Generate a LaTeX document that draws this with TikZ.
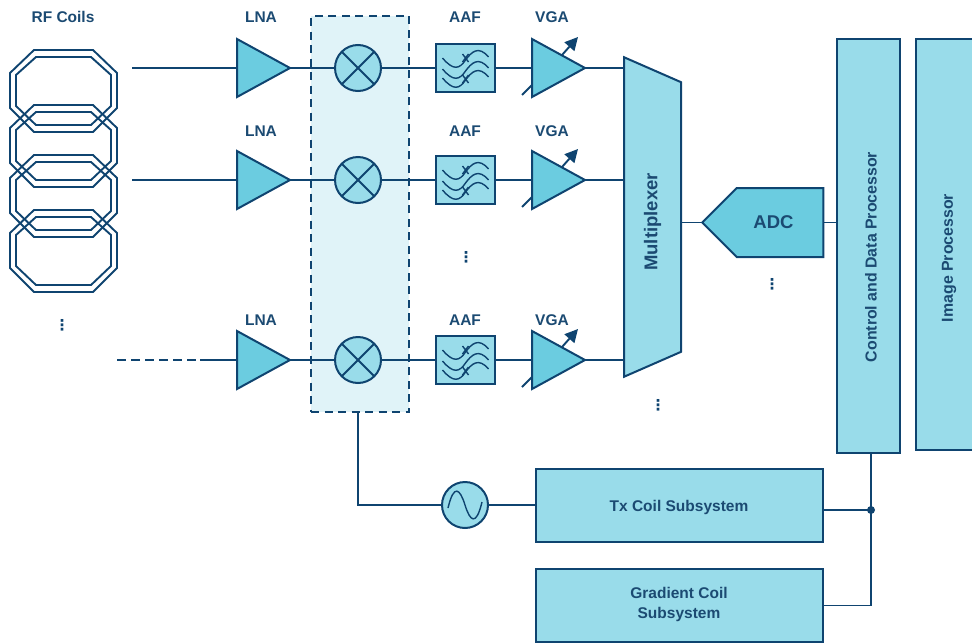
\documentclass[tikz,border=0pt]{standalone}
\usepackage{fontspec}
\setmainfont{Liberation Sans}
\newfontfamily\symfont{DejaVu Sans}
\usetikzlibrary{arrows.meta,shapes.geometric,shapes.symbols}
\definecolor{linecol}{HTML}{0F4470}
\definecolor{textcol}{HTML}{1B4A72}
\definecolor{boxcol}{HTML}{99DCEA}
\definecolor{ampcol}{HTML}{6BCCE0}
\definecolor{mixcol}{HTML}{E0F3F8}
\tikzset{
    wire/.style={line width=1.9pt,linecol},
    lab/.style={text=textcol,font=\fontsize{15.5}{19}\selectfont\bfseries,align=center,inner sep=0pt},
    proclab/.style={text=textcol,font=\fontsize{15.9}{19}\selectfont\bfseries,inner sep=0pt,rotate=90},
    biglab/.style={text=textcol,font=\fontsize{18.5}{22}\selectfont\bfseries,inner sep=0pt},
    block/.style={draw=linecol,line width=2pt,fill=boxcol,inner sep=0pt},
    amp/.style={isosceles triangle,isosceles triangle stretches,anchor=apex,draw=linecol,line width=2pt,fill=ampcol,inner sep=0pt,outer sep=0pt,minimum width=58pt,minimum height=53pt},
    mixer/.style={circle,draw=linecol,line width=2pt,fill=boxcol,inner sep=0pt,minimum size=46pt,
        path picture={\draw[wire] (path picture bounding box.north west) -- (path picture bounding box.south east)
            (path picture bounding box.north east) -- (path picture bounding box.south west);}},
    aaf/.style={block,minimum width=59pt,minimum height=48pt},
    dots/.style={text=linecol,inner sep=0pt,font=\fontsize{15}{15}\selectfont\symfont\bfseries},
    coil/.pic={
        \draw[wire] (24,0) -- (83,0) -- (107,23) -- (107,58) -- (83,82) -- (24,82) -- (0,58) -- (0,23) -- cycle;
        \draw[wire] (26,7) -- (81,7) -- (101,25) -- (101,56) -- (81,75) -- (26,75) -- (6,56) -- (6,25) -- cycle;
    },
    waves/.pic={
        \draw[line width=1.4pt,linecol] (-23,-10) .. controls (-12,3) and (-6,1) .. (0,-8) .. controls (6,-16) and (13,-23) .. (23,-11);
        \draw[line width=1.4pt,linecol] (-23,1) .. controls (-12,14) and (-6,12) .. (0,3) .. controls (6,-5) and (13,-12) .. (23,0);
        \draw[line width=1.4pt,linecol] (-23,10) .. controls (-12,23) and (-6,21) .. (0,12) .. controls (6,4) and (13,-3) .. (23,9);
        \draw[line width=1.4pt,linecol] (-3,-14) -- (3,-6) (3,-14) -- (-3,-6);
        \draw[line width=1.4pt,linecol] (-3,7) -- (3,15) (3,7) -- (-3,15);
    },
    gain/.pic={
        \draw[wire,-{Triangle[length=13pt,width=13pt]}] (-24,-13) -- (-8,-31);
        \draw[wire] (-64,27) -- (-54,17);
    }
}
\begin{document}
\begin{tikzpicture}[x=1pt,y=-1pt]
        \useasboundingbox (0,0) rectangle (972,643);
        
        %mixer box
        \node[draw=linecol,line width=2pt,dash pattern=on 8pt off 5.5pt,fill=mixcol,minimum width=98pt,minimum height=396pt,inner sep=0pt] (mixbox) at (360,214) {};
        
        %coils
        \pic at (10,50) {coil};
        \pic at (10,105) {coil};
        \pic at (10,155) {coil};
        \pic at (10,210) {coil};
        \node[lab] (rflab) at (63,17) {RF Coils};
        \node[dots] (coildots) at (62,325) {⋮};
        \coordinate (in1) at (132,68);
        \coordinate (in2) at (132,180);
        \coordinate (in3) at (117,360);
        \coordinate (in3b) at (200,360);
        
        %LNA
        \node[amp] (lna1) at (290,68) {};
        \node[amp] (lna2) at (290,180) {};
        \node[amp] (lna3) at (290,360) {};
        \node[lab] (lnalab1) at (261,17) {LNA};
        \node[lab] (lnalab2) at (261,131) {LNA};
        \node[lab] (lnalab3) at (261,320) {LNA};
        
        %mixers
        \node[mixer] (mix1) at (358,68) {};
        \node[mixer] (mix2) at (358,180) {};
        \node[mixer] (mix3) at (358,360) {};
        
        %AAF
        \node[aaf] (aaf1) at (465.5,68) {};
        \node[aaf] (aaf2) at (465.5,180) {};
        \node[aaf] (aaf3) at (465.5,360) {};
        \pic at (aaf1) {waves};
        \pic at (aaf2) {waves};
        \pic at (aaf3) {waves};
        \node[lab] (aaflab1) at (465,17) {AAF};
        \node[lab] (aaflab2) at (465,131) {AAF};
        \node[lab] (aaflab3) at (465,320) {AAF};
        \node[dots] (aafdots) at (466,257) {⋮};
        
        %VGA
        \pic at (586,68) {gain};
        \pic at (586,180) {gain};
        \pic at (586,360) {gain};
        \node[amp] (vga1) at (585,68) {};
        \node[amp] (vga2) at (585,180) {};
        \node[amp] (vga3) at (585,360) {};
        \node[lab] (vgalab1) at (552,17) {VGA};
        \node[lab] (vgalab2) at (552,131) {VGA};
        \node[lab] (vgalab3) at (552,320) {VGA};
        
        %mux and ADC
        \node[trapezium,trapezium stretches,shape border rotate=180,rotate=90,trapezium angle=60,block,biglab,minimum width=320pt,minimum height=57pt] (mux) at (652.5,217) {Multiplexer\hspace*{10pt}};
        \node[dots] (muxdots) at (658,405) {⋮};
        \node[signal,signal to=west,signal from=nowhere,signal pointer angle=90,block,biglab,fill=ampcol,minimum width=121pt,minimum height=69pt] (adc) at (780,222.5) {ADC\hspace*{13pt}};
        \node[dots] (adcdots) at (772,284) {⋮};
        
        %processors
        \node[block,minimum width=63pt,minimum height=414pt] (cdp) at (868.5,246) {};
        \node[proclab] (cdplab) at (871,257) {Control and Data Processor};
        \node[block,minimum width=60pt,minimum height=411pt] (imgp) at (946,244.5) {};
        \node[proclab] (imglab) at (949,258) {Image Processor};
        
        %Tx and gradient
        \node[mixer,fill=boxcol,path picture={\draw[line width=1.4pt,linecol] (-17,3) .. controls (-11,-22) and (-5,-16) .. (0,0) .. controls (5,16) and (11,22) .. (17,-3);}] (osc) at (465,505) {};
        \node[block,minimum width=287pt,minimum height=73pt] (tx) at (679.5,505.5) {};
        \node[lab] (txlab) at (679,507.5) {Tx Coil Subsystem};
        \node[block,minimum width=287pt,minimum height=73pt] (grad) at (679.5,605.5) {};
        \node[lab] (gradlab) at (679,604.5) {Gradient Coil\\[1pt]Subsystem};
        \coordinate (jct) at (871,510);
        \fill[linecol] (jct) circle (4pt);
        
        %wires
        \draw[wire] (in1) -- (lna1.west |- in1);
        \draw[wire] (in2) -- (lna2.west |- in2);
        \draw[wire,dash pattern=on 8.5pt off 5.5pt] (in3) -- (in3b);
        \draw[wire] (in3b) -- (lna3.west |- in3b);
        \draw[wire] (lna1.apex) -- (mix1);
        \draw[wire] (lna2.apex) -- (mix2);
        \draw[wire] (lna3.apex) -- (mix3);
        \draw[wire] (mix1) -- (aaf1);
        \draw[wire] (mix2) -- (aaf2);
        \draw[wire] (mix3) -- (aaf3);
        \draw[wire] (aaf1) -- (vga1.west |- aaf1);
        \draw[wire] (aaf2) -- (vga2.west |- aaf2);
        \draw[wire] (aaf3) -- (vga3.west |- aaf3);
        \draw[wire] (vga1.apex) -- (vga1.apex -| mux.north);
        \draw[wire] (vga2.apex) -- (vga2.apex -| mux.north);
        \draw[wire] (vga3.apex) -- (vga3.apex -| mux.north);
        \draw[wire] (mux.south |- adc.west) -- (adc.west);
        \draw[wire] (adc.east) -- (adc.east -| cdp.west);
        \draw[wire] (mix3 |- mixbox.south) -- (mix3 |- osc) -- (osc);
        \draw[wire] (osc) -- (osc -| tx.west);
        \draw[wire] (tx.east |- jct) -- (jct);
        \draw[wire] (cdp.south -| jct) -- (jct |- grad) -- (grad);
\end{tikzpicture}
\end{document}
